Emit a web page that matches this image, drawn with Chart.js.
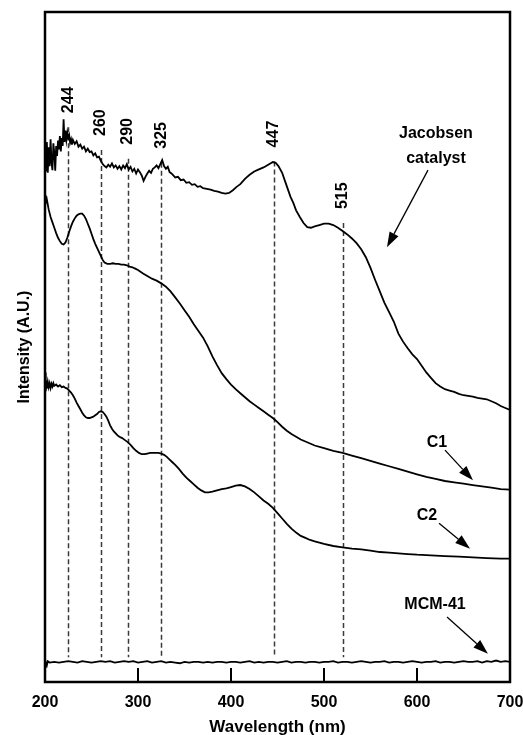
<!DOCTYPE html>
<html>
<head>
<meta charset="utf-8">
<title>UV-Vis spectra</title>
<script src="https://cdn.jsdelivr.net/npm/chart.js@4.4.0/dist/chart.umd.min.js"></script>
<style>
  body { margin: 0; background: #fff; }
  canvas { display: block; }
</style>
</head>
<body>
<canvas id="spectra" width="523" height="735"></canvas>
<script>
// wavelength (nm) / intensity (a.u.)
const jacobsenX = [
  200, 201, 202, 203, 204, 205, 206, 207, 208, 209, 210, 211, 212, 213, 214, 215,
  216, 217, 218, 219, 220, 221, 222, 223, 224, 225, 226, 227, 228, 229, 230,
  232, 234, 236, 238, 240, 242, 244, 246, 248, 250, 252, 254, 256, 258, 260,
  262, 264, 266, 268, 270, 272, 274, 276, 278, 280, 282, 284, 286, 288, 290,
  292, 294, 296, 298, 300, 302, 304, 306, 308, 310, 312, 314, 316, 318, 320,
  322, 324, 326, 328, 330, 332, 334, 336, 338, 340, 343, 346, 349, 352, 355,
  358, 361, 364, 367, 370, 374, 378, 382, 386, 390, 394, 398, 402, 406, 410,
  415, 420, 425, 430, 435, 440, 445, 448, 451, 455, 458, 461, 464, 467, 470,
  474, 478, 482, 486, 490, 495, 500, 505, 510, 515, 520, 525, 530, 535, 540,
  545, 550, 555, 560, 565, 570, 575, 580, 585, 590, 595, 600, 605, 610, 615,
  620, 625, 630, 635, 640, 645, 650, 655, 660, 665, 670, 675, 680, 685, 690,
  695, 700
];
const jacobsenY = [
  79.0, 76.2, 80.6, 76.0, 79.8, 77.0, 81.0, 77.6, 76.4, 80.4, 79.0, 76.3, 80.0, 78.5, 80.8, 79.5,
  81.5, 79.2, 81.2, 80.0, 84.0, 80.6, 82.3, 80.9, 82.0, 81.2, 81.6, 80.5, 81.0, 80.2, 80.9,
  80.3, 80.7, 79.9, 80.2, 79.6, 79.9, 79.2, 79.6, 79.1, 79.2, 78.6, 78.9, 78.3, 78.4, 77.8,
  77.3, 77.0, 76.8, 77.2, 76.9, 77.4, 76.8, 77.1, 76.6, 77.0, 76.5, 77.1, 76.7, 77.3, 76.5,
  76.9, 76.2, 76.6, 75.9, 76.5, 76.1, 75.6, 74.8, 75.4, 75.9, 76.3, 76.0, 76.6, 76.8, 77.1,
  76.7, 77.3, 77.9, 77.0, 76.6, 76.9, 76.1, 75.9, 75.6, 75.3, 75.4, 74.9, 75.0, 74.5, 74.6,
  74.2, 74.3, 73.9, 74.0, 73.7, 73.6, 73.5, 73.3, 73.2, 73.0, 72.9, 73.0, 73.4, 73.9, 74.3,
  75.1, 75.7, 76.2, 76.5, 76.8, 77.2, 77.6, 77.5, 77.0, 76.0, 74.8, 73.6, 72.4, 71.5, 70.4,
  69.4, 68.5, 67.9, 67.8, 68.0, 68.2, 68.4, 68.4, 68.2, 67.8, 67.3, 66.8, 66.2, 65.5, 64.6,
  63.4, 61.8, 60.0, 58.3, 56.6, 55.2, 53.8, 52.0, 50.8, 49.8, 48.9, 48.2, 47.2, 46.2, 45.4,
  44.6, 44.1, 43.7, 43.5, 43.3, 43.0, 42.8, 42.7, 42.6, 42.4, 42.3, 42.2, 41.9, 41.6, 41.2,
  40.9, 40.6
];

const c1X = [
  200, 201, 202, 204, 206, 208, 210, 212, 214, 216, 218, 220, 222, 224, 226, 228,
  230, 232, 234, 236, 238, 240, 242, 244, 246, 248, 250, 252, 254, 256, 258, 260,
  262, 264, 267, 270, 273, 276, 279, 282, 285, 288, 291, 294, 297, 300, 305, 310,
  315, 320, 325, 330, 335, 340, 345, 350, 355, 360, 365, 370, 375, 380, 385, 390,
  395, 400, 405, 410, 415, 420, 425, 430, 435, 440, 445, 450, 455, 460, 465, 470,
  475, 480, 485, 490, 500, 510, 520, 530, 540, 550, 560, 570, 580, 590, 600, 610,
  620, 630, 640, 650, 660, 670, 680, 690, 700
];
const c1Y = [
  72.6, 71.6, 72.0, 70.5, 69.4, 68.6, 67.8, 67.0, 66.3, 65.8, 65.4, 65.3, 65.6, 66.3, 67.2, 68.0,
  68.7, 69.2, 69.6, 69.8, 69.9, 69.9, 69.6, 69.1, 68.4, 67.7, 66.9, 66.1, 65.4, 64.8, 64.2, 63.6,
  63.0, 62.6, 62.4, 62.4, 62.5, 62.4, 62.4, 62.3, 62.3, 62.2, 62.0, 61.9, 61.7, 61.5, 61.0, 60.6,
  60.2, 59.9, 59.5, 59.0, 58.3, 57.4, 56.5, 55.5, 54.5, 53.4, 52.4, 51.4, 50.1, 48.6, 47.3, 46.1,
  45.2, 44.4, 43.7, 43.1, 42.5, 41.9, 41.4, 40.9, 40.4, 39.9, 39.4, 38.8, 38.1, 37.5, 37.0, 36.6,
  36.2, 35.9, 35.6, 35.3, 34.9, 34.5, 34.2, 33.8, 33.4, 33.0, 32.6, 32.2, 31.8, 31.4, 31.0, 30.6,
  30.3, 30.0, 29.8, 29.6, 29.4, 29.2, 29.0, 28.8, 28.7
];

const c2X = [
  200, 200.5, 201, 201.5, 202, 203, 204, 205, 206, 207, 208, 209, 210, 212, 214, 216,
  218, 220, 222, 224, 226, 228, 230, 232, 234, 236, 238, 240, 242, 244, 246, 248,
  250, 252, 254, 256, 258, 260, 262, 264, 266, 268, 270, 272, 274, 276, 278, 280,
  283, 286, 289, 292, 295, 298, 301, 304, 307, 310, 313, 316, 319, 322, 325, 328,
  331, 334, 337, 340, 344, 348, 352, 356, 360, 364, 368, 372, 376, 380, 385, 390,
  395, 400, 405, 410, 415, 420, 425, 430, 435, 440, 445, 450, 455, 460, 465, 470,
  475, 480, 485, 490, 495, 500, 510, 520, 530, 540, 550, 560, 570, 580, 590, 600,
  615, 630, 645, 660, 675, 690, 700
];
const c2Y = [
  44.2, 46.2, 43.4, 45.0, 43.8, 44.8, 44.0, 44.6, 43.9, 44.5, 44.1, 44.6, 44.2, 44.4, 44.1, 44.3,
  44.0, 44.1, 43.9, 43.8, 43.5, 43.2, 42.8, 42.3, 41.7, 41.2, 40.7, 40.2, 39.8, 39.5, 39.4, 39.4,
  39.5, 39.6, 39.8, 40.0, 40.3, 40.4, 40.3, 40.0, 39.6, 39.0, 38.3, 37.8, 37.4, 37.1, 36.8, 36.6,
  36.4, 36.1, 35.8, 35.4, 34.9, 34.5, 34.2, 34.0, 34.0, 34.1, 34.2, 34.2, 34.2, 34.2, 34.1, 33.9,
  33.6, 33.2, 32.8, 32.4, 31.8, 31.1, 30.5, 30.0, 29.5, 29.0, 28.6, 28.3, 28.3, 28.4, 28.6, 28.8,
  28.9, 29.1, 29.3, 29.4, 29.2, 28.8, 28.3, 27.7, 27.1, 26.6, 26.0, 25.2, 24.4, 23.6, 22.9, 22.3,
  21.8, 21.5, 21.2, 21.0, 20.8, 20.6, 20.3, 20.1, 19.9, 19.8, 19.6, 19.4, 19.3, 19.2, 19.1, 19.0,
  18.9, 18.8, 18.7, 18.6, 18.5, 18.4, 18.4
];

const mcmX = [
  200, 201, 202, 203, 205, 210, 215, 220, 225, 230, 235, 240, 245, 250, 255, 260,
  265, 270, 275, 280, 285, 290, 295, 300, 305, 310, 315, 320, 325, 330, 335, 340,
  345, 350, 355, 360, 365, 370, 375, 380, 385, 390, 395, 400, 405, 410, 415, 420,
  425, 430, 435, 440, 445, 450, 455, 460, 465, 470, 475, 480, 485, 490, 495, 500,
  505, 510, 515, 520, 525, 530, 535, 540, 545, 550, 555, 560, 565, 570, 575, 580,
  585, 590, 595, 600, 605, 610, 615, 620, 625, 630, 635, 640, 645, 650, 655, 660,
  665, 670, 675, 680, 685, 690, 695, 700
];
const mcmY = [
  2.3, 2.9, 2.5, 3.1, 2.9, 3.0, 2.9, 3.0, 3.1, 3.0, 2.9, 3.1, 3.0, 2.9, 3.0, 3.1,
  3.0, 3.1, 2.9, 3.0, 3.1, 3.0, 3.1, 2.9, 3.0, 3.1, 2.9, 3.0, 3.1, 2.9, 3.0, 2.9,
  2.8, 3.0, 2.9, 3.0, 3.0, 2.9, 3.0, 2.9, 3.0, 3.0, 2.9, 3.0, 3.0, 2.9, 3.0, 3.1,
  2.9, 3.0, 2.9, 3.0, 3.0, 2.9, 3.0, 3.1, 2.9, 3.0, 3.0, 2.9, 3.0, 3.0, 2.9, 3.0,
  3.0, 3.1, 2.9, 3.0, 3.0, 2.9, 3.0, 3.1, 3.0, 2.9, 3.0, 3.0, 3.1, 2.9, 3.0, 3.0,
  2.9, 3.0, 3.1, 3.0, 2.9, 3.0, 3.0, 3.1, 2.9, 3.0, 3.0, 2.9, 3.0, 3.1, 3.0, 3.0,
  3.1, 2.9, 3.1, 3.0, 3.2, 3.0, 3.1, 3.0
];

// dashed peak markers: where each line sits, its label, and where it starts
const peakLines = [225, 260, 289, 325, 446, 520];
const peakLabels = ["244", "260", "290", "325", "447", "515"];
const peakTops = [82.8, 79.4, 78.1, 77.5, 77.7, 68.5];
const peakBottom = 3.7;

const xTicks = [200, 300, 400, 500, 600, 700];

const FONT = "'Liberation Sans', Arial, sans-serif";

function toPoints(xs, ys) {
  return xs.map((x, i) => ({ x: x, y: ys[i] }));
}

function lineSet(label, xs, ys) {
  return {
    label: label,
    data: toPoints(xs, ys),
    borderColor: "#000",
    borderWidth: 1.8,
    pointRadius: 0,
    tension: 0,
    fill: false,
  };
}

function drawArrow(ctx, x1, y1, x2, y2) {
  const ang = Math.atan2(y2 - y1, x2 - x1);
  const head = 15;
  const half = 5;
  const bx = x2 - head * Math.cos(ang);
  const by = y2 - head * Math.sin(ang);
  ctx.beginPath();
  ctx.moveTo(x1, y1);
  ctx.lineTo(bx, by);
  ctx.stroke();
  ctx.beginPath();
  ctx.moveTo(x2, y2);
  ctx.lineTo(bx + half * Math.sin(ang), by - half * Math.cos(ang));
  ctx.lineTo(bx - half * Math.sin(ang), by + half * Math.cos(ang));
  ctx.closePath();
  ctx.fill();
}

// text notes with arrows, in data coordinates
const notes = [
  { lines: ["Jacobsen", "catalyst"], at: [620.4, 81.8], from: [611.8, 76.4], to: [567.7, 64.9] },
  { lines: ["C1"], at: [621.5, 35.8], from: [630.1, 34.6], to: [660.2, 30.1] },
  { lines: ["C2"], at: [610.8, 24.9], from: [623.7, 23.7], to: [657.0, 19.9] },
  { lines: ["MCM-41"], at: [619.4, 11.5], from: [632.3, 9.7], to: [676.3, 4.2] },
];

const decorations = {
  id: "decorations",
  beforeDatasetsDraw(chart) {
    const { ctx, scales: { x, y } } = chart;
    ctx.save();
    ctx.strokeStyle = "#3a3a3a";
    ctx.lineWidth = 1.5;
    ctx.setLineDash([5, 3]);
    peakLines.forEach((nm, i) => {
      const px = Math.round(x.getPixelForValue(nm)) + 0.5;
      ctx.beginPath();
      ctx.moveTo(px, y.getPixelForValue(peakTops[i]));
      ctx.lineTo(px, y.getPixelForValue(peakBottom));
      ctx.stroke();
    });
    ctx.restore();
  },
  afterDraw(chart) {
    const { ctx, chartArea: a, scales: { x, y } } = chart;
    ctx.save();

    // frame
    ctx.strokeStyle = "#000";
    ctx.lineWidth = 2.5;
    ctx.strokeRect(a.left, a.top, a.right - a.left, a.bottom - a.top);

    // inward tick marks
    ctx.lineWidth = 2;
    xTicks.forEach((t) => {
      const px = x.getPixelForValue(t);
      ctx.beginPath();
      ctx.moveTo(px, a.bottom);
      ctx.lineTo(px, a.bottom - 14);
      ctx.stroke();
    });

    // peak labels, rotated
    ctx.fillStyle = "#000";
    ctx.font = "bold 16px " + FONT;
    ctx.textAlign = "left";
    ctx.textBaseline = "middle";
    peakLines.forEach((nm, i) => {
      const px = x.getPixelForValue(nm);
      const py = y.getPixelForValue(peakTops[i]) - 14;
      ctx.save();
      ctx.translate(px, py);
      ctx.rotate(-Math.PI / 2);
      ctx.fillText(peakLabels[i], 0, 0);
      ctx.restore();
    });

    // notes and arrows
    ctx.textAlign = "center";
    ctx.lineWidth = 1.3;
    notes.forEach((n) => {
      const tx = x.getPixelForValue(n.at[0]);
      const ty = y.getPixelForValue(n.at[1]);
      n.lines.forEach((line, j) => ctx.fillText(line, tx, ty + j * 25));
      drawArrow(
        ctx,
        x.getPixelForValue(n.from[0]), y.getPixelForValue(n.from[1]),
        x.getPixelForValue(n.to[0]), y.getPixelForValue(n.to[1])
      );
    });

    ctx.restore();
  },
};

new Chart(document.getElementById("spectra"), {
  type: "line",
  data: {
    datasets: [
      lineSet("Jacobsen catalyst", jacobsenX, jacobsenY),
      lineSet("C1", c1X, c1Y),
      lineSet("C2", c2X, c2Y),
      lineSet("MCM-41", mcmX, mcmY),
    ],
  },
  options: {
    responsive: false,
    animation: false,
    layout: { padding: { top: 12, right: 13, left: 0, bottom: 0 } },
    plugins: {
      legend: { display: false },
      tooltip: { enabled: false },
    },
    scales: {
      x: {
        type: "linear",
        min: 200,
        max: 700,
        grid: { display: false, drawTicks: false },
        border: { display: false },
        ticks: {
          stepSize: 100,
          padding: 11,
          color: "#000",
          font: { family: FONT, size: 16, weight: "bold" },
        },
        title: {
          display: true,
          text: "Wavelength (nm)",
          color: "#000",
          padding: 0,
          font: { family: FONT, size: 17, weight: "bold", lineHeight: 0.9 },
        },
        afterFit(scale) {
          scale.height = 53;
          scale.paddingLeft = 0;
          scale.paddingRight = 0;
        },
      },
      y: {
        min: 0,
        max: 100,
        grid: { display: false, drawTicks: false },
        border: { display: false },
        ticks: { display: false },
        title: {
          display: true,
          text: "Intensity (A.U.)",
          color: "#000",
          padding: { top: 15, bottom: 0 },
          font: { family: FONT, size: 16, weight: "bold" },
        },
        afterFit(scale) {
          scale.width = 45;
          scale.paddingTop = 0;
          scale.paddingBottom = 0;
        },
      },
    },
  },
  plugins: [decorations],
});
</script>
</body>
</html>
